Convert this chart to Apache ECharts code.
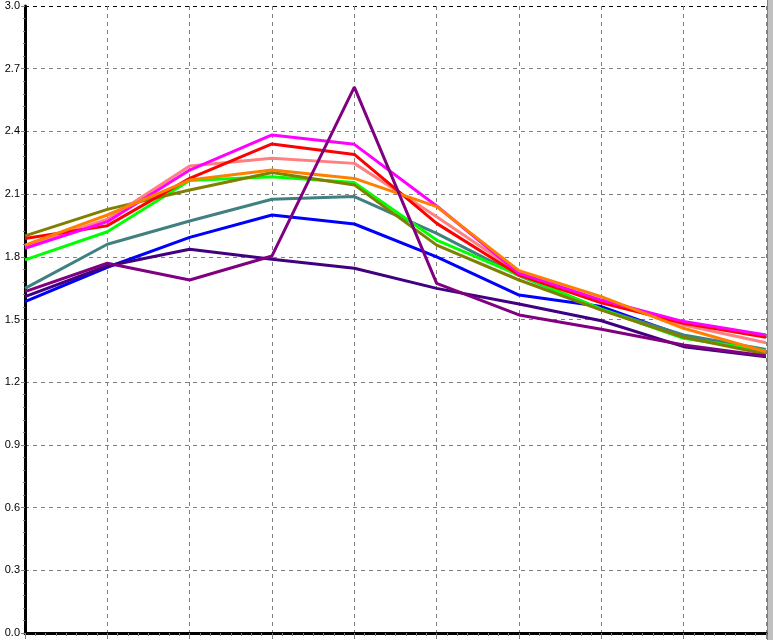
<!DOCTYPE html>
<html><head><meta charset="utf-8">
<script src="https://cdn.jsdelivr.net/npm/echarts@6/dist/echarts.min.js"></script>
<style>html,body{margin:0;padding:0;background:#fff}#c{width:773px;height:640px}</style>
</head><body><div id="c"></div>
<script>
const categories = [0,1,2,3,4,5,6,7,8,9];
const yTicks = [0,0.3,0.6,0.9,1.2,1.5,1.8,2.1,2.4,2.7,3.0];
const blue    = [1.585,1.750,1.893,2.000,1.957,1.800,1.617,1.562,1.421,1.345];
const teal    = [1.649,1.860,1.971,2.075,2.088,1.912,1.710,1.549,1.426,1.357];
const lime    = [1.785,1.920,2.165,2.183,2.155,1.880,1.712,1.549,1.410,1.350];
const olive   = [1.900,2.027,2.120,2.203,2.144,1.856,1.689,1.545,1.415,1.335];
const salmon  = [1.850,1.980,2.234,2.271,2.247,1.992,1.725,1.590,1.474,1.389];
const red     = [1.888,1.949,2.175,2.340,2.290,1.960,1.713,1.580,1.482,1.415];
const magenta = [1.841,1.968,2.215,2.383,2.338,2.043,1.721,1.593,1.490,1.426];
const orange  = [1.856,2.000,2.167,2.215,2.175,2.040,1.734,1.609,1.458,1.346];
const indigo  = [1.609,1.756,1.836,1.788,1.745,1.649,1.574,1.494,1.370,1.322];
const purple  = [1.633,1.769,1.689,1.804,2.612,1.673,1.522,1.453,1.378,1.325];

const seriesDefs = [
  ['blue', blue, '#0000FF'],
  ['teal', teal, '#408080'],
  ['lime', lime, '#00FF00'],
  ['olive', olive, '#808000'],
  ['salmon', salmon, '#FF8080'],
  ['red', red, '#FF0000'],
  ['magenta', magenta, '#FF00FF'],
  ['orange', orange, '#FF8000'],
  ['indigo', indigo, '#400080'],
  ['purple', purple, '#800080']
];

const chart = echarts.init(document.getElementById('c'));
const splitColors = yTicks.map((t,i)=> i===yTicks.length-1 ? '#000000' : '#808080');
chart.setOption({
  animation:false,
  backgroundColor:'#ffffff',
  grid:{left:25,right:7,top:6,bottom:7,containLabel:false},
  xAxis:{
    type:'value', min:0, max:categories.length-1, interval:1,
    axisLine:{show:true,onZero:false,lineStyle:{color:'#000',width:3}},
    axisTick:{show:true,inside:false,length:6,lineStyle:{color:'#808080',width:1}},
    minorTick:{show:true,splitNumber:8,length:3,lineStyle:{color:'#808080'}},
    axisLabel:{show:false},
    splitLine:{show:true,lineStyle:{color:'#808080',type:[4,4],width:1}}
  },
  yAxis:{
    type:'value', min:0, max:3, interval:0.3,
    axisLine:{show:true,lineStyle:{color:'#000',width:3}},
    axisTick:{show:true,length:4,lineStyle:{color:'#808080',width:1}},
    minorTick:{show:true,splitNumber:5,length:2,lineStyle:{color:'#808080'}},
    axisLabel:{color:'#000',fontFamily:'Liberation Sans, Arial, sans-serif',fontSize:11,margin:5,
      formatter:v=>v.toFixed(1)},
    splitLine:{show:true,lineStyle:{color:splitColors,type:[4,4],width:1}}
  },
  graphic:[
    {type:'rect',right:0,top:0,shape:{width:5,height:640},style:{fill:'#c0c0c0'}},
    {type:'rect',right:5,top:0,shape:{width:1,height:640},style:{fill:'#808080'}}
  ],
  series: seriesDefs.map(([name,arr,color])=>({
    name, type:'line', data: arr.map((v,i)=>[categories[i],v]),
    showSymbol:false, symbol:'none',
    lineStyle:{color,width:3}, itemStyle:{color}
  }))
});
</script></body></html>
